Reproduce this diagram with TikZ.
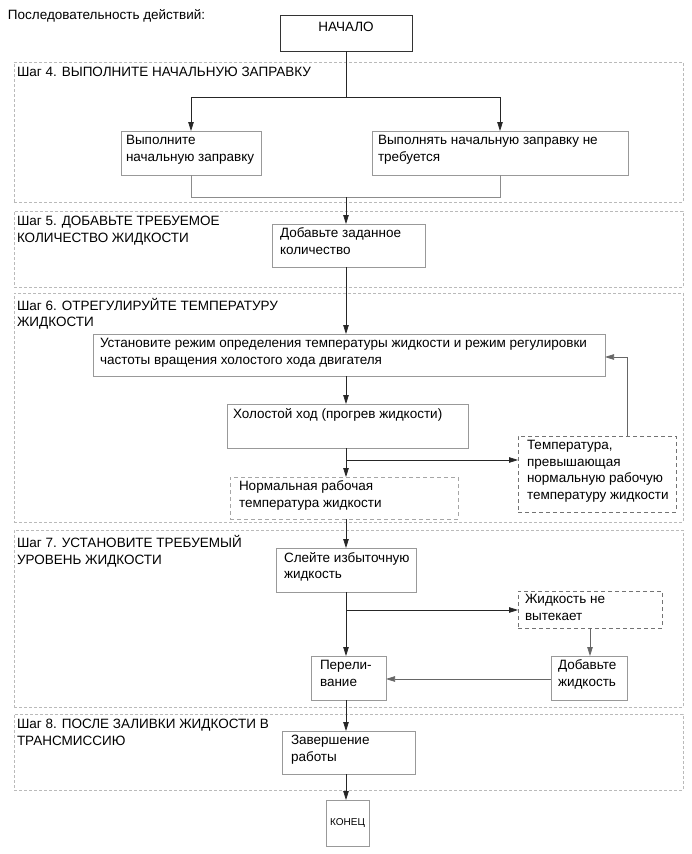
\documentclass[tikz,border=0pt]{standalone}
\usepackage{fontspec}
\setmainfont{Liberation Sans}
\usetikzlibrary{arrows.meta,calc}
\begin{document}
\begin{tikzpicture}[x=1pt,y=-1pt,
  every node/.style={inner sep=0pt, outer sep=0pt},
  frame/.style={draw=black!27, dash pattern=on 3pt off 2pt, line width=0.6pt, anchor=north west},
  box/.style={draw=black!40, line width=0.7pt, anchor=north west},
  dbox/.style={draw=black!55, dash pattern=on 4pt off 3pt, line width=0.7pt, anchor=north west},
  txt/.style={anchor=north west, align=left, font=\fontsize{13.5}{16.8}\selectfont},
  conn/.style={draw=black!85, line width=0.75pt},
  joinln/.style={draw=black!45, line width=0.8pt},
  arr/.style={conn, -{Triangle[length=9pt,width=5.5pt]}},
]
\useasboundingbox (0,0) rectangle (691,854);

% title
\node[anchor=base west, font=\fontsize{13.5}{16.8}\selectfont] (title) at (8,19) {Последовательность действий:};

% start
\node[draw=black!80, line width=0.7pt, anchor=north west, minimum width=132pt, minimum height=36pt] (start) at (280,15) {};
\node[anchor=base, font=\fontsize{13.5}{16.8}\selectfont] (starttxt) at (346,31) {НАЧАЛО};

% step 4
\node[frame, minimum width=669pt, minimum height=140pt] (c4) at (14,62) {};
\node[txt] (l4) at (17,67) {Шаг 4. ВЫПОЛНИТЕ НАЧАЛЬНУЮ ЗАПРАВКУ};
\node[box, minimum width=140pt, minimum height=44pt] (b4a) at (121,131) {};
\node[txt] (t4a) at ($(b4a.north west)+(5,4)$) {Выполните\\начальную заправку};
\node[box, minimum width=256pt, minimum height=44pt] (b4b) at (372,131) {};
\node[txt] (t4b) at ($(b4b.north west)+(6,4)$) {Выполнять начальную заправку не\\требуется};

% step 5
\node[frame, minimum width=669pt, minimum height=76pt] (c5) at (14,211) {};
\node[txt] (l5) at (17,216) {Шаг 5. ДОБАВЬТЕ ТРЕБУЕМОЕ\\КОЛИЧЕСТВО ЖИДКОСТИ};
\node[box, minimum width=153pt, minimum height=43pt] (b5) at (272,224) {};
\node[txt] (t5) at ($(b5.north west)+(8,4)$) {Добавьте заданное\\количество};

% step 6
\node[frame, minimum width=669pt, minimum height=229pt] (c6) at (14,293) {};
\node[txt] (l6) at (17,298) {Шаг 6. ОТРЕГУЛИРУЙТЕ ТЕМПЕРАТУРУ\\ЖИДКОСТИ};
\node[box, minimum width=512pt, minimum height=42pt] (b6a) at (93,334) {};
\node[txt] (t6a) at ($(b6a.north west)+(7,4)$) {Установите режим определения температуры жидкости и режим регулировки\\частоты вращения холостого хода двигателя};
\node[box, minimum width=241pt, minimum height=44pt] (b6b) at (227,404) {};
\node[txt] (t6b) at ($(b6b.north west)+(6,4)$) {Холостой ход (прогрев жидкости)};
\node[dbox, draw=black!35, minimum width=228pt, minimum height=42pt] (b6c) at (230,477) {};
\node[txt] (t6c) at ($(b6c.north west)+(9,4)$) {Нормальная рабочая\\температура жидкости};
\node[dbox, minimum width=158pt, minimum height=76pt] (b6d) at (518,436) {};
\node[txt] (t6d) at ($(b6d.north west)+(9,4)$) {Температура,\\превышающая\\нормальную рабочую\\температуру жидкости};

% step 7
\node[frame, minimum width=669pt, minimum height=177pt] (c7) at (14,530) {};
\node[txt] (l7) at (17,535) {Шаг 7. УСТАНОВИТЕ ТРЕБУЕМЫЙ\\УРОВЕНЬ ЖИДКОСТИ};
\node[box, minimum width=140pt, minimum height=44pt] (b7a) at (276,548) {};
\node[txt] (t7a) at ($(b7a.north west)+(8,4)$) {Слейте избыточную\\жидкость};
\node[dbox, minimum width=144pt, minimum height=37pt] (b7b) at (518,591) {};
\node[txt] (t7b) at ($(b7b.north west)+(7,3)$) {Жидкость не\\вытекает};
\node[box, minimum width=75pt, minimum height=44pt] (b7c) at (311,656) {};
\node[txt] (t7c) at ($(b7c.north west)+(9,4)$) {Перели-\\вание};
\node[box, minimum width=76pt, minimum height=44pt] (b7d) at (551,656) {};
\node[txt] (t7d) at ($(b7d.north west)+(7,4)$) {Добавьте\\жидкость};

% step 8
\node[frame, minimum width=669pt, minimum height=76pt] (c8) at (14,714) {};
\node[txt] (l8) at (17,719) {Шаг 8. ПОСЛЕ ЗАЛИВКИ ЖИДКОСТИ В\\ТРАНСМИССИЮ};
\node[box, minimum width=133pt, minimum height=43pt] (b8) at (282,731) {};
\node[txt] (t8) at ($(b8.north west)+(9,4)$) {Завершение\\работы};

% end
\node[box, minimum width=43pt, minimum height=46pt] (fin) at (326,800) {};
\node[font=\fontsize{10}{12}\selectfont] (fintxt) at (fin.center) {КОНЕЦ};

% connectors
\coordinate (sp) at (346,0);
\coordinate (br4) at (346,97);
\coordinate (jn4) at (346,197);
\draw[conn] (start.south) -- (br4);
\draw[conn] (b4a.north |- br4) -- (b4b.north |- br4);
\draw[arr] (b4a.north |- br4) -- (b4a.north);
\draw[arr] (b4b.north |- br4) -- (b4b.north);
\draw[joinln] (b4a.south) -- (b4a.south |- jn4) -- (b4b.south |- jn4) -- (b4b.south);
\draw[arr] (jn4) -- (sp |- b5.north);
\draw[arr] (sp |- b5.south) -- (sp |- b6a.north);
\draw[arr] (sp |- b6a.south) -- (sp |- b6b.north);
\draw[arr] (sp |- b6b.south) -- (sp |- b6c.north);
\coordinate (br6) at (346,460);
\draw[arr] (br6) -- (br6 -| b6d.west);
\coordinate (fb) at (627,357);
\draw[arr, draw=black!60] (fb |- b6d.north) -- (fb) -- (fb -| b6a.east);
\draw[arr] (sp |- b6c.south) -- (sp |- b7a.north);
\draw[arr] (sp |- b7a.south) -- (sp |- b7c.north);
\coordinate (br7) at (346,610);
\draw[arr] (br7) -- (br7 -| b7b.west);
\coordinate (dn7) at (590,0);
\draw[arr, draw=black!60] (dn7 |- b7b.south) -- (dn7 |- b7d.north);
\coordinate (lf7) at (0,679);
\draw[arr, draw=black!60] (lf7 -| b7d.west) -- (lf7 -| b7c.east);
\draw[arr] (sp |- b7c.south) -- (sp |- b8.north);
\draw[arr] (sp |- b8.south) -- (sp |- fin.north);
\end{tikzpicture}
\end{document}
